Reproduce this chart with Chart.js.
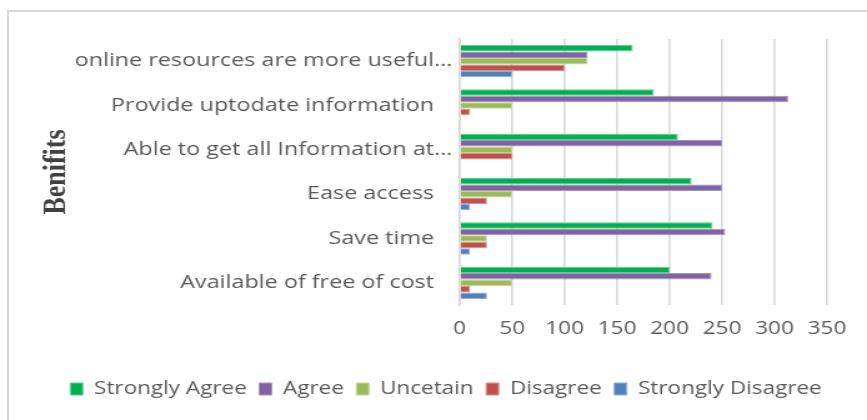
<!DOCTYPE html>
<html>
<head>
<meta charset="utf-8">
<title>Benifits</title>
<script src="https://cdn.jsdelivr.net/npm/chart.js@4"></script>
<style>
    body { margin: 0; background: #ffffff; }
    .wrap { position: relative; width: 867px; height: 420px; overflow: hidden; }
    .frame { position: absolute; left: 7px; top: 10px; width: 900px; height: 500px; border: 2px solid #d9d9d9; box-sizing: border-box; }
    #chart { position: absolute; left: 0; top: 0; }
</style>
</head>
<body>
<div class="wrap">
    <div class="frame"></div>
    <!-- el original esta estirado en horizontal, asi que estiramos el canvas igual -->
    <canvas id="chart" width="694" height="420" style="width: 867px; height: 420px;"></canvas>
</div>
<script>
// Categorias (de arriba hacia abajo)
var categories = [
    'online resources are more useful…',
    'Provide uptodate information',
    'Able to get all Information at…',
    'Ease access',
    'Save time',
    'Available of free of cost'
];

// Series
var seriesNames = ['Strongly Agree', 'Agree', 'Uncetain', 'Disagree', 'Strongly Disagree'];
var stronglyAgree = [165, 185, 208, 221, 241, 200];
var agree = [122, 313, 250, 250, 253, 240];
var uncetain = [122, 50, 50, 50, 26, 50];
var disagree = [100, 10, 50, 26, 26, 10];
var stronglyDisagree = [50, 0, 0, 10, 10, 26];

// Eje X
var xTicks = [0, 50, 100, 150, 200, 250, 300, 350];

document.addEventListener('DOMContentLoaded', function () {
    var colors = ['#00b050', '#8064a2', '#9bbb59', '#c0504d', '#4f81bd'];
    var edges = ['#5ccf8c', '#a893c2', '#c0d88f', '#dc8f8c', '#8fb0da'];
    var values = [stronglyAgree, agree, uncetain, disagree, stronglyDisagree];

    var datasets = seriesNames.map(function (name, i) {
        return {
            label: name,
            data: values[i],
            backgroundColor: colors[i],
            borderColor: edges[i],
            borderWidth: 1,
            categoryPercentage: 0.73,
            barPercentage: 1.0
        };
    });

    var grey = '#595959';

    // mover la leyenda un poco a la derecha, como en el original
    var shiftLegend = {
        id: 'shiftLegend',
        afterLayout: function (chart) {
            chart.legend.left += 11;
            chart.legend.right += 11;
        }
    };

    new Chart(document.getElementById('chart'), {
        type: 'bar',
        data: { labels: categories, datasets: datasets },
        plugins: [shiftLegend],
        options: {
            indexAxis: 'y',
            responsive: false,
            devicePixelRatio: 1,
            animation: false,
            layout: { padding: { left: 30, right: 32, top: 39, bottom: 12 } },
            scales: {
                x: {
                    min: xTicks[0],
                    max: xTicks[xTicks.length - 1],
                    afterBuildTicks: function (scale) {
                        scale.ticks = xTicks.map(function (v) { return { value: v }; });
                    },
                    afterFit: function (scale) { scale.height = 65; },
                    grid: { color: '#d9d9d9', lineWidth: 1.6, drawTicks: false },
                    border: { display: false },
                    ticks: {
                        padding: 13,
                        color: grey,
                        font: { family: 'Open Sans', size: 18 }
                    }
                },
                y: {
                    afterFit: function (scale) { scale.width = 338; },
                    grid: { display: false, drawTicks: false },
                    border: { color: '#d9d9d9', width: 1.6 },
                    title: {
                        display: true,
                        text: 'Benifits',
                        color: '#404040',
                        padding: 0,
                        font: { family: 'Liberation Serif', size: 26, weight: 'bold' }
                    },
                    ticks: {
                        padding: 6,
                        color: grey,
                        autoSkip: false,
                        font: { family: 'Open Sans', size: 18.7 },
                        callback: function (value) {
                            var label = this.getLabelForValue(value);
                            return label.slice(-1) === '…' ? label : label + '   ';
                        }
                    }
                }
            },
            plugins: {
                legend: {
                    position: 'bottom',
                    labels: {
                        boxWidth: 10,
                        boxHeight: 12,
                        padding: 10,
                        color: grey,
                        font: { family: 'Open Sans', size: 18 }
                    }
                },
                tooltip: { enabled: false }
            }
        }
    });
});
</script>
</body>
</html>
